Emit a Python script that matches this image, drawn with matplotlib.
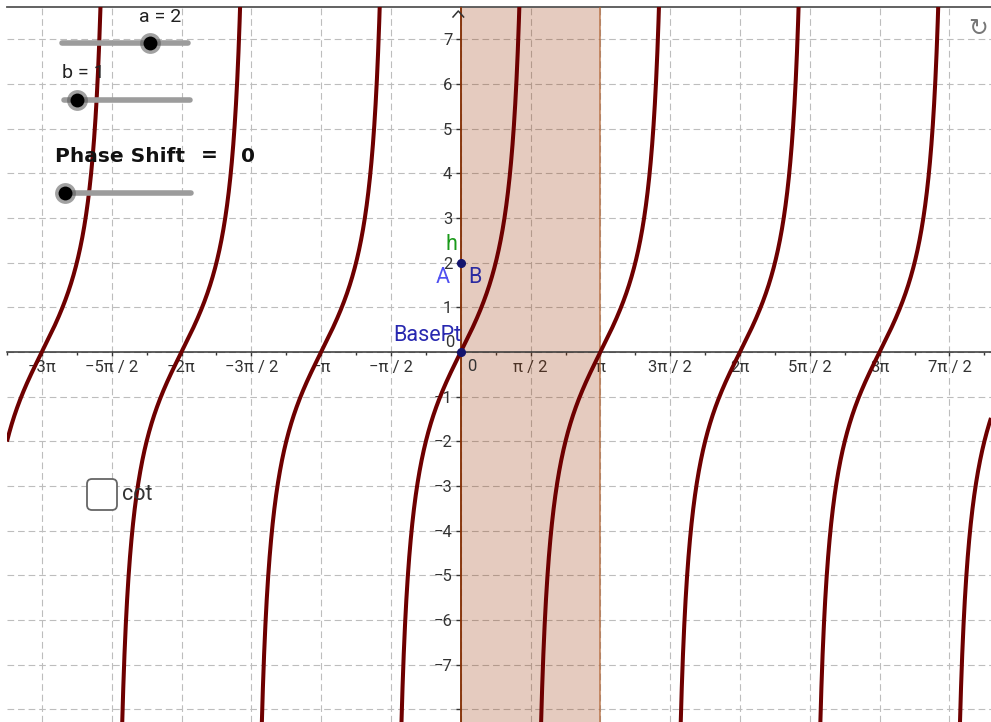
import numpy as np
import matplotlib
matplotlib.use("Agg")
import matplotlib.pyplot as plt
from matplotlib.patches import FancyBboxPatch

plt.rcParams['font.family'] = ['Roboto', 'DejaVu Sans']

# ---- data / parameters ----
a_val = 2
b_val = 1
phase = 0.0
a_range = (-5, 5)
b_range = (0, 10)
phase_range = (0, 2 * np.pi)

xtick_mult = [-6, -5, -4, -3, -2, -1, 0, 1, 2, 3, 4, 5, 6, 7]   # multiples of pi/2
xtick_labels = ["\u22123\u03c0", "\u22125\u03c0 / 2", "\u22122\u03c0", "\u22123\u03c0 / 2",
                "\u2212\u03c0", "\u2212\u03c0 / 2", "", "\u03c0 / 2", "\u03c0",
                "3\u03c0 / 2", "2\u03c0", "5\u03c0 / 2", "3\u03c0", "7\u03c0 / 2"]
ytick_vals = [-8, -7, -6, -5, -4, -3, -2, -1, 0, 1, 2, 3, 4, 5, 6, 7]
ytick_labels = ["", "\u22127", "\u22126", "\u22125", "\u22124", "\u22123", "\u22122", "\u22121",
                "", "1", "2", "3", "4", "5", "6", "7"]

shade_range = (0, np.pi)
point_AB = (0, 2)
point_base = (0, 0)

xlim = (-10.108, 11.93)
ylim = (-8.287, 7.727)

W, H = 991, 722
fig = plt.figure(figsize=(W / 100, H / 100), dpi=100)
ax = fig.add_axes([7 / W, 0, (W - 7) / W, (H - 7) / H])
ax.set_xlim(*xlim)
ax.set_ylim(*ylim)

TICK_FS = 12
TICK_C = '#333333'

# spines
ax.spines['right'].set_visible(False)
ax.spines['top'].set_color('#555555')
ax.spines['top'].set_linewidth(1.3)
ax.spines['bottom'].set_position('zero')
ax.spines['left'].set_position('zero')
ax.spines['bottom'].set_color('#333333')
ax.spines['left'].set_color('#333333')
ax.spines['bottom'].set_linewidth(1.1)
ax.spines['left'].set_linewidth(1.1)
ax.spines['bottom'].set_zorder(2.6)

# ticks
ax.set_xticks([m * np.pi / 2 for m in xtick_mult])
ax.set_xticklabels(xtick_labels)
ax.set_xticks([m * np.pi / 4 for m in range(-13, 16, 2)], minor=True)
ax.set_yticks(ytick_vals)
ax.set_yticklabels(ytick_labels)
ax.tick_params(axis='x', which='both', direction='out', length=3, width=1, color='#333333',
               labelsize=TICK_FS, labelcolor=TICK_C, pad=3)
ax.tick_params(axis='y', which='both', direction='out', length=3.6, width=1, color='#333333',
               labelsize=TICK_FS, labelcolor=TICK_C, pad=2.5)
ax.tick_params(axis='x', which='minor', length=2.5)

# grid
ax.set_axisbelow(True)
ax.grid(True, which='major', color='#bdbdbd', linestyle=(0, (6, 3.5)), linewidth=0.8)

# shaded region
ax.axvspan(shade_range[0], shade_range[1], facecolor='#993300', alpha=0.25, edgecolor='none', zorder=1)
ax.axvline(shade_range[0], color='#993300', lw=1.1, zorder=2.7)
ax.axvline(shade_range[1], color='#b0602d', lw=1.1, alpha=0.8, zorder=2.7)

# curve y = a tan(b (x - phase)), drawn branch by branch
kmin = int(np.floor((xlim[0] * b_val - np.pi / 2) / np.pi)) - 1
kmax = int(np.ceil((xlim[1] * b_val + np.pi / 2) / np.pi)) + 1
for k in range(kmin, kmax + 1):
    lo = (k * np.pi - np.pi / 2) / b_val + phase
    hi = (k * np.pi + np.pi / 2) / b_val + phase
    xs = np.linspace(lo + 1e-4, hi - 1e-4, 1500)
    ys = a_val * np.tan(b_val * (xs - phase))
    m = np.abs(ys) < 30
    ax.plot(xs[m], ys[m], color='#6e0000', lw=2.9, zorder=4, solid_capstyle='butt')

# zero labels
ax.text(0.14, -0.16, "0", ha='left', va='top', fontsize=TICK_FS, color=TICK_C, zorder=3)
ax.text(-0.14, 0.05, "0", ha='right', va='bottom', fontsize=TICK_FS, color=TICK_C, zorder=3)

# points
ax.plot(*point_AB, 'o', ms=5.5, color='#14146e', zorder=6)
ax.plot(*point_base, 'o', ms=5.5, color='#14146e', zorder=6)
PT_FS = 15.5
ax.text(-0.2, 2.4, "h", color='#1a9a1a', fontsize=PT_FS, ha='center', va='center', zorder=6)
ax.text(-0.4, 1.66, "A", color='#5050f0', fontsize=PT_FS, ha='center', va='center', zorder=6)
ax.text(0.32, 1.66, "B", color='#2a2aa0', fontsize=PT_FS, ha='center', va='center', zorder=6)
ax.text(-0.76, 0.38, "BasePt", color='#2828b0', fontsize=PT_FS, ha='center', va='center', zorder=6)

# ---- overlay widgets (pixel coordinates) ----
ov = fig.add_axes([0, 0, 1, 1], zorder=10)
ov.set_xlim(0, W)
ov.set_ylim(H, 0)
ov.axis('off')
ov.patch.set_alpha(0)

# y-axis arrow head
ov.plot([453, 458.3, 463.6], [17, 11, 17], color='#333333', lw=1.1)


def slider(x0, x1, y, val, rng, label=None, lx=None, ly=None):
    ov.plot([x0, x1], [y, y], color='#9c9c9c', lw=4, solid_capstyle='round')
    kx = x0 + (x1 - x0) * (val - rng[0]) / (rng[1] - rng[0])
    ov.plot(kx, y, 'o', ms=15, color='#555555', alpha=0.55, mec='none')
    ov.plot(kx, y, 'o', ms=10, color='black', mec='none')
    if label:
        ov.text(lx, ly, label, fontsize=14, color='#222222', ha='center', va='center')


slider(62, 188, 43, a_val, a_range, "a = 2", 160, 17)
slider(64, 190, 100, b_val, b_range, "b = 1", 83, 73)
slider(65, 191, 193, phase, phase_range)
PS_KW = dict(fontsize=14.5, fontweight='bold', color='#111111', va='center', family='DejaVu Sans')
ov.text(55, 156, "Phase Shift", ha='left', **PS_KW)
ov.text(209, 156, "=", ha='center', **PS_KW)
ov.text(248, 156, "0", ha='center', **PS_KW)

# checkbox
cb = FancyBboxPatch((87, 479), 30, 31, boxstyle="round,pad=0,rounding_size=5",
                    facecolor='white', edgecolor='#666666', lw=1.3)
ov.add_patch(cb)
ov.text(122, 495, "cot", fontsize=15.5, color='#333333', ha='left', va='center')

# refresh icon
ov.text(978, 28, "\u21bb", fontsize=17, color='#777777', ha='center', va='center',
        family='DejaVu Sans')

fig.savefig("out.png", dpi=100)
